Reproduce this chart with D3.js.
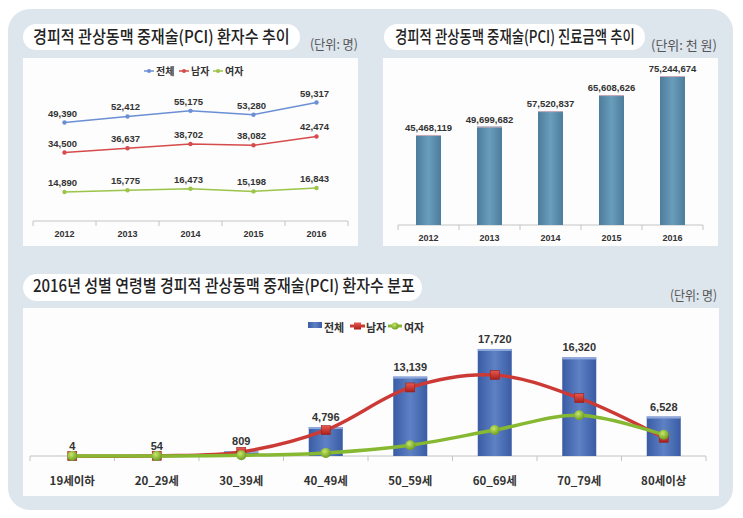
<!DOCTYPE html>
<html>
<head>
<meta charset="utf-8">
<script src="https://cdn.jsdelivr.net/npm/d3@7"></script>
<style>
  body { margin: 0; background: #fff; }
  svg { display: block; }
  .num { font-family: 'Liberation Sans', Arial, sans-serif; font-weight: bold; fill: #333; }
  .kr { font-family: 'Noto Sans CJK KR', sans-serif; }
</style>
</head>
<body>
<div id="chart"></div>
<script>
/* global d3 */

// --- data ---
const years = ['2012', '2013', '2014', '2015', '2016']
const totalPatients = [49390, 52412, 55175, 53280, 59317]
const malePatients = [34500, 36637, 38702, 38082, 42474]
const femalePatients = [14890, 15775, 16473, 15198, 16843]
const costs = [45468119, 49699682, 57520837, 65608626, 75244674]

const ageGroups = ['19세이하', '20_29세', '30_39세', '40_49세', '50_59세', '60_69세', '70_79세', '80세이상']
const ageTotal = [4, 54, 809, 4796, 13139, 17720, 16320, 6528]
const ageMale = [3, 43, 680, 4280, 11350, 13420, 9580, 3020]
const ageFemale = [1, 11, 129, 516, 1789, 4300, 6740, 3508]

const seriesNames = ['전체', '남자', '여자']

const fmt = d3.format(',')

const width = 743,
  height = 518

let svg = d3.select('#chart')
  .append('svg')
  .attr('width', width)
  .attr('height', height)

let defs = svg.append('defs')

// bar gradients
let g1 = defs.append('linearGradient').attr('id', 'costBar')
  .attr('x1', 0).attr('x2', 1).attr('y1', 0).attr('y2', 0)
g1.append('stop').attr('offset', '0%').attr('stop-color', '#4c7d9b')
g1.append('stop').attr('offset', '50%').attr('stop-color', '#6a9dbc')
g1.append('stop').attr('offset', '100%').attr('stop-color', '#4c7d9b')

let g2 = defs.append('linearGradient').attr('id', 'ageBar')
  .attr('x1', 0).attr('x2', 1).attr('y1', 0).attr('y2', 0)
g2.append('stop').attr('offset', '0%').attr('stop-color', '#3a5ca4')
g2.append('stop').attr('offset', '50%').attr('stop-color', '#5e80c4')
g2.append('stop').attr('offset', '100%').attr('stop-color', '#3a5ca4')

let g3 = defs.append('radialGradient').attr('id', 'greenDot')
  .attr('cx', '40%').attr('cy', '35%').attr('r', '65%')
g3.append('stop').attr('offset', '0%').attr('stop-color', '#c6e86a')
g3.append('stop').attr('offset', '100%').attr('stop-color', '#6e9c20')

let g4 = defs.append('linearGradient').attr('id', 'redSq')
  .attr('x1', 0).attr('x2', 0).attr('y1', 0).attr('y2', 1)
g4.append('stop').attr('offset', '0%').attr('stop-color', '#e85a50')
g4.append('stop').attr('offset', '100%').attr('stop-color', '#a8201c')

// background panel
svg.append('rect')
  .attr('x', 8).attr('y', 9)
  .attr('width', 725).attr('height', 501)
  .attr('rx', 22)
  .attr('fill', '#dde5ed')

// white plot boxes
let boxes = [[23, 58, 335, 188], [383, 58, 335, 188], [23, 308, 696, 188]]
svg.selectAll('rect.box')
  .data(boxes)
  .enter()
  .append('rect')
  .attr('class', 'box')
  .attr('x', d => d[0]).attr('y', d => d[1])
  .attr('width', d => d[2]).attr('height', d => d[3])
  .attr('fill', '#fdfdfd')

// text squeezed horizontally to a given width (condensed look of the original)
let squeezed = (x, y, len, size, weight, color, str) => {
  let g = svg.append('g')
  let t = g.append('text')
    .attr('class', 'kr')
    .attr('font-size', size)
    .attr('font-weight', weight)
    .attr('fill', color)
    .text(str)
  let natural = t.node().getComputedTextLength()
  g.attr('transform', `translate(${x},${y}) scale(${len / natural},1)`)
}

// titles
let titles = [
  { x: 23, y: 24, w: 277, h: 26, tx: 33, ty: 43, len: 257, text: '경피적 관상동맥 중재술(PCI) 환자수 추이' },
  { x: 384, y: 24, w: 261, h: 26, tx: 395, ty: 43, len: 240, text: '경피적 관상동맥 중재술(PCI) 진료금액 추이' },
  { x: 23, y: 274, w: 399, h: 27, tx: 33, ty: 292, len: 382, text: '2016년 성별 연령별 경피적 관상동맥 중재술(PCI) 환자수 분포' }
]
titles.forEach(t => {
  svg.append('rect')
    .attr('x', t.x).attr('y', t.y)
    .attr('width', t.w).attr('height', t.h)
    .attr('rx', t.h / 2)
    .attr('fill', '#fff')
  squeezed(t.tx, t.ty, t.len, 17, 500, '#222', t.text)
})

let units = [
  { x: 310, y: 49, len: 48, text: '(단위: 명)' },
  { x: 651, y: 50, len: 66, text: '(단위: 천 원)' },
  { x: 670, y: 300, len: 47, text: '(단위: 명)' }
]
units.forEach(u => squeezed(u.x, u.y, u.len, 13, 400, '#555', u.text))

// helper: category axis with boundary ticks
let drawAxis = (x, y0, labelY, fontCls, fontSize) => {
  let g = svg.append('g')
  let r = x.range()
  g.append('line')
    .attr('x1', r[0]).attr('x2', r[1])
    .attr('y1', y0).attr('y2', y0)
    .attr('stroke', '#c4c4c4')
  let bounds = x.domain().map(d => x(d)).concat([r[1]])
  g.selectAll('line.tk')
    .data(bounds)
    .enter()
    .append('line')
    .attr('class', 'tk')
    .attr('x1', d => d).attr('x2', d => d)
    .attr('y1', y0).attr('y2', y0 + 5)
    .attr('stroke', '#c4c4c4')
  g.selectAll('text')
    .data(x.domain())
    .enter()
    .append('text')
    .attr('class', fontCls)
    .attr('x', d => x(d) + x.bandwidth() / 2)
    .attr('y', labelY)
    .attr('text-anchor', 'middle')
    .attr('font-size', fontSize)
    .attr('font-weight', 'bold')
    .attr('fill', '#333')
    .text(d => d)
}

// ---------- chart 1: patients trend ----------
let x1 = d3.scaleBand().domain(years).range([33, 348])
let y1 = d3.scaleLinear().domain([0, 70000]).range([222, 81])
drawAxis(x1, 221, 237, 'num', 9)

let trend = [
  { name: seriesNames[0], values: totalPatients, color: '#6a8fd4' },
  { name: seriesNames[1], values: malePatients, color: '#d64b4b' },
  { name: seriesNames[2], values: femalePatients, color: '#9bc44a' }
]
let line1 = d3.line()
  .x((d, i) => x1(years[i]) + x1.bandwidth() / 2)
  .y(d => y1(d))

trend.forEach(s => {
  svg.append('path')
    .attr('d', line1(s.values))
    .attr('fill', 'none')
    .attr('stroke', s.color)
    .attr('stroke-width', 1.5)
  svg.selectAll(null)
    .data(s.values)
    .enter()
    .append('circle')
    .attr('cx', (d, i) => x1(years[i]) + x1.bandwidth() / 2)
    .attr('cy', d => y1(d))
    .attr('r', 2.2)
    .attr('fill', s.color)
  svg.selectAll(null)
    .data(s.values)
    .enter()
    .append('text')
    .attr('class', 'num')
    .attr('x', (d, i) => x1(years[i]) + x1.bandwidth() / 2 - 2)
    .attr('y', d => y1(d) - 6)
    .attr('text-anchor', 'middle')
    .attr('font-size', 9.5)
    .text(d => fmt(d))
})

// legend 1
let leg1 = [144, 179, 213]
trend.forEach((s, i) => {
  let lx = leg1[i]
  svg.append('line')
    .attr('x1', lx).attr('x2', lx + 10)
    .attr('y1', 71).attr('y2', 71)
    .attr('stroke', s.color).attr('stroke-width', 1.5)
  svg.append('circle')
    .attr('cx', lx + 5).attr('cy', 71).attr('r', 2)
    .attr('fill', s.color)
  svg.append('text')
    .attr('class', 'kr')
    .attr('x', lx + 12).attr('y', 75)
    .attr('font-size', 10)
    .attr('font-weight', 'bold')
    .attr('fill', '#333')
    .text(s.name)
})

// ---------- chart 2: cost bars ----------
let x2 = d3.scaleBand().domain(years).range([398, 703])
let y2 = d3.scaleLinear().domain([0, 80000000]).range([225, 66.6])
drawAxis(x2, 225, 241, 'num', 9)

let bw2 = 25
svg.selectAll('rect.cost')
  .data(costs)
  .enter()
  .append('rect')
  .attr('class', 'cost')
  .attr('x', (d, i) => x2(years[i]) + x2.bandwidth() / 2 - bw2 / 2)
  .attr('y', d => y2(d))
  .attr('width', bw2)
  .attr('height', d => y2(0) - y2(d))
  .attr('fill', 'url(#costBar)')
svg.selectAll('line.costTop')
  .data(costs)
  .enter()
  .append('line')
  .attr('class', 'costTop')
  .attr('x1', (d, i) => x2(years[i]) + x2.bandwidth() / 2 - bw2 / 2)
  .attr('x2', (d, i) => x2(years[i]) + x2.bandwidth() / 2 + bw2 / 2)
  .attr('y1', d => y2(d) + 0.5).attr('y2', d => y2(d) + 0.5)
  .attr('stroke', '#c9a9b8')
svg.selectAll('text.costLbl')
  .data(costs)
  .enter()
  .append('text')
  .attr('class', 'num costLbl')
  .attr('x', (d, i) => x2(years[i]) + x2.bandwidth() / 2)
  .attr('y', d => y2(d) - 4)
  .attr('text-anchor', 'middle')
  .attr('font-size', 9.5)
  .text(d => fmt(d))

// ---------- chart 3: age distribution ----------
let x3 = d3.scaleBand().domain(ageGroups).range([30, 706])
let y3 = d3.scaleLinear().domain([0, 20000]).range([456, 335.2])
drawAxis(x3, 456, 485, 'kr', 11.5)

let cx3 = i => x3(ageGroups[i]) + x3.bandwidth() / 2
let bw3 = 34
svg.selectAll('rect.age')
  .data(ageTotal)
  .enter()
  .append('rect')
  .attr('class', 'age')
  .attr('x', (d, i) => cx3(i) - bw3 / 2)
  .attr('y', d => y3(d))
  .attr('width', bw3)
  .attr('height', d => y3(0) - y3(d))
  .attr('fill', 'url(#ageBar)')
svg.selectAll('rect.ageTop')
  .data(ageTotal)
  .enter()
  .append('rect')
  .attr('class', 'ageTop')
  .attr('x', (d, i) => cx3(i) - bw3 / 2)
  .attr('y', d => y3(d))
  .attr('width', bw3)
  .attr('height', d => Math.min(2, y3(0) - y3(d)))
  .attr('fill', '#8fa8dc')

// smoothed lines like the original's
let line3 = d3.line()
  .x((d, i) => cx3(i))
  .y(d => y3(d))
  .curve(d3.curveCatmullRom.alpha(0.5))

svg.append('path')
  .attr('d', line3(ageMale))
  .attr('fill', 'none')
  .attr('stroke', '#cc3a36')
  .attr('stroke-width', 3.5)
svg.selectAll('rect.maleMk')
  .data(ageMale)
  .enter()
  .append('rect')
  .attr('class', 'maleMk')
  .attr('x', (d, i) => cx3(i) - 4.5)
  .attr('y', d => y3(d) - 4.5)
  .attr('width', 9).attr('height', 9)
  .attr('fill', 'url(#redSq)')
  .attr('stroke', '#9a1e1a').attr('stroke-width', 0.6)

svg.append('path')
  .attr('d', line3(ageFemale))
  .attr('fill', 'none')
  .attr('stroke', '#86b832')
  .attr('stroke-width', 3.5)
svg.selectAll('circle.femMk')
  .data(ageFemale)
  .enter()
  .append('circle')
  .attr('class', 'femMk')
  .attr('cx', (d, i) => cx3(i))
  .attr('cy', d => y3(d))
  .attr('r', 5)
  .attr('fill', 'url(#greenDot)')

svg.selectAll('text.ageLbl')
  .data(ageTotal)
  .enter()
  .append('text')
  .attr('class', 'num ageLbl')
  .attr('x', (d, i) => cx3(i))
  .attr('y', d => y3(d) - 6)
  .attr('text-anchor', 'middle')
  .attr('font-size', 11)
  .text(d => fmt(d))

// legend 3
let lg = svg.append('g')
lg.append('rect')
  .attr('x', 308).attr('y', 322).attr('width', 14).attr('height', 6)
  .attr('fill', 'url(#ageBar)')
lg.append('line')
  .attr('x1', 350).attr('x2', 365).attr('y1', 326).attr('y2', 326)
  .attr('stroke', '#cc3a36').attr('stroke-width', 3)
lg.append('rect')
  .attr('x', 354).attr('y', 322.5).attr('width', 7).attr('height', 7)
  .attr('fill', 'url(#redSq)')
lg.append('line')
  .attr('x1', 388).attr('x2', 402).attr('y1', 326).attr('y2', 326)
  .attr('stroke', '#86b832').attr('stroke-width', 3)
lg.append('circle')
  .attr('cx', 395).attr('cy', 326).attr('r', 3.5)
  .attr('fill', 'url(#greenDot)')
let lgx = [324, 366, 404]
seriesNames.forEach((n, i) => {
  lg.append('text')
    .attr('class', 'kr')
    .attr('x', lgx[i]).attr('y', 332)
    .attr('font-size', 11)
    .attr('font-weight', 'bold')
    .attr('fill', '#333')
    .text(n)
})
</script>
</body>
</html>
